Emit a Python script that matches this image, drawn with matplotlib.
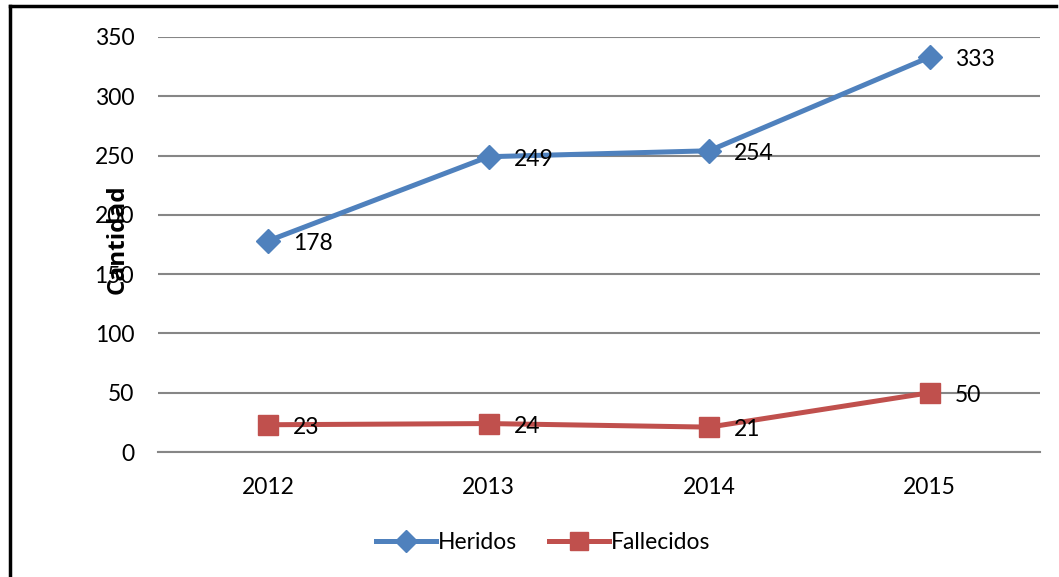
import matplotlib
matplotlib.use("Agg")
import matplotlib.pyplot as plt
from matplotlib.lines import Line2D

years = ["2012", "2013", "2014", "2015"]
heridos = [178, 249, 254, 333]
fallecidos = [23, 24, 21, 50]
yticks = [0, 50, 100, 150, 200, 250, 300, 350]

blue = "#4F81BD"
red = "#C0504D"
grid_c = "#868686"

plt.rcParams["font.family"] = ["Lato", "DejaVu Sans"]
fs = 16.5

fig = plt.figure(figsize=(10.59, 5.77), dpi=100)
ax = fig.add_axes([0.149, 0.2166, 0.833, 0.7194])

x = range(len(years))
ax.plot(x, heridos, color=blue, lw=3.6, marker="D", ms=12, zorder=3)
ax.plot(x, fallecidos, color=red, lw=3.6, marker="s", ms=14, zorder=3)

for i, v in enumerate(heridos):
    ax.annotate(str(v), (i, v), xytext=(18, -2), textcoords="offset points",
                ha="left", va="center", fontsize=fs)
for i, v in enumerate(fallecidos):
    ax.annotate(str(v), (i, v), xytext=(18, -2), textcoords="offset points",
                ha="left", va="center", fontsize=fs)

ax.set_xlim(-0.5, 3.5)
ax.set_ylim(0, 350)
ax.set_yticks(yticks)
ax.set_xticks(list(x))
ax.set_xticklabels(years)
ax.tick_params(axis="y", length=0, pad=17, labelsize=fs)
ax.tick_params(axis="x", length=0, pad=18, labelsize=fs)
ax.grid(axis="y", color=grid_c, lw=1.5)
ax.set_axisbelow(True)
for s in ["top", "right", "left"]:
    ax.spines[s].set_visible(False)
ax.spines["bottom"].set_color(grid_c)
ax.spines["bottom"].set_linewidth(1.5)

# y-axis title sits over the tick labels, as in the source
fig.text(0.111, 0.585, "Cantidad", rotation=90, fontsize=17.5, fontweight="bold",
         family=["Open Sans", "DejaVu Sans"], ha="center", va="center")

handles = [Line2D([], [], color=blue, lw=3.6, marker="D", ms=11),
           Line2D([], [], color=red, lw=3.6, marker="s", ms=13)]
fig.legend(handles, ["Heridos", "Fallecidos"], loc="center", bbox_to_anchor=(0.513, 0.059),
           ncol=2, frameon=False, fontsize=fs, handlelength=2.6, handletextpad=0.1,
           columnspacing=1.4)

# outer border (left and top edges visible in the crop)
fig.add_artist(Line2D([0.0095, 0.0095], [0, 0.989], color="black", lw=2.5, transform=fig.transFigure))
fig.add_artist(Line2D([0.0095, 0.997], [0.989, 0.989], color="black", lw=2.5, transform=fig.transFigure))

fig.savefig("out.png", dpi=100)
